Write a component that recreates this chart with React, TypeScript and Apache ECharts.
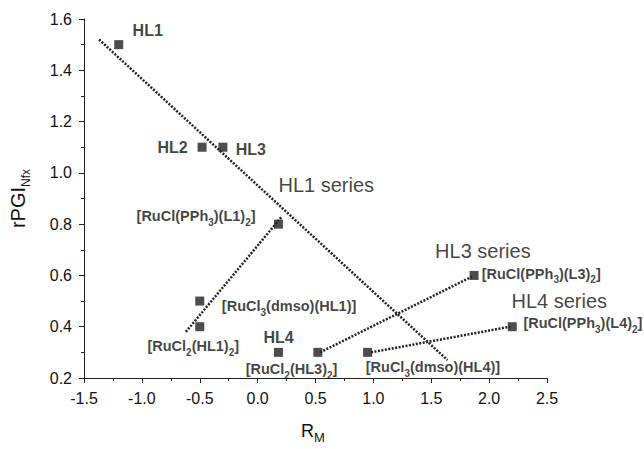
import React, { useEffect, useRef } from "react";
import * as echarts from "echarts";

const xTicks = { min: -1.5, max: 2.5, interval: 0.5 };
const yTicks = { min: 0.2, max: 1.6, interval: 0.2 };

const pointsX = [-1.2, -0.48, -0.3, 0.18, -0.5, -0.5, 0.18, 0.52, 0.95, 1.87, 2.2];
const pointsY = [1.5, 1.1, 1.1, 0.8, 0.5, 0.4, 0.3, 0.3, 0.3, 0.6, 0.4];

const fitHL1Series = [[-1.37, 1.52], [1.64, 0.27]];
const fitHL1Complex = [[-0.62, 0.38], [0.21, 0.83]];
const fitHL3Series = [[0.54, 0.3], [1.85, 0.595]];
const fitHL4Series = [[0.98, 0.3], [2.18, 0.4]];

// label anchors: [x, y, text]
const boldLabels: [number, number, string][] = [
  [-1.08, 1.554, "HL1"],
  [-0.866, 1.099, "HL2"],
  [-0.189, 1.092, "HL3"],
  [0.051, 0.357, "HL4"],
];
const compoundLabels: [number, number, string][] = [
  [-1.046, 0.83, "[RuCl(PPh{s|3})(L1){s|2}]"],
  [-0.309, 0.48, "[RuCl{s|3}(dmso)(HL1)]"],
  [-0.952, 0.323, "[RuCl{s|2}(HL1){s|2}]"],
  [-0.103, 0.234, "[RuCl{s|2}(HL3){s|2}]"],
  [0.934, 0.241, "[RuCl{s|3}(dmso)(HL4)]"],
  [1.936, 0.607, "[RuCl(PPh{s|3})(L3){s|2}]"],
  [2.296, 0.413, "[RuCl(PPh{s|3})(L4){s|2}]"],
];
const seriesLabels: [number, number, string][] = [
  [0.18, 0.954, "HL1 series"],
  [1.533, 0.696, "HL3 series"],
  [2.193, 0.499, "HL4 series"],
];

const INK = "#231f20";
const TEXT = "#111111";
const FONT = "'Liberation Sans', Arial, sans-serif";

function labelSeries(items: [number, number, string][], size: number, weight: string, sub: number) {
  return {
    type: "scatter",
    symbolSize: 0,
    silent: true,
    data: items.map((d) => ({ value: [d[0], d[1]], name: d[2] })),
    label: {
      show: true,
      position: "right",
      distance: 0,
      formatter: (p: any) => p.name,
      color: TEXT,
      fontFamily: FONT,
      fontSize: size,
      fontWeight: weight,
      lineHeight: size + 2,
      rich: {
        s: {
          fontFamily: FONT,
          fontSize: sub,
          fontWeight: weight,
          color: TEXT,
          lineHeight: sub,
          verticalAlign: "bottom",
          padding: [0, 0, -3, 0],
        },
      },
    },
  };
}

function fitLine(d: number[][]) {
  return {
    type: "line",
    data: d,
    symbol: "none",
    silent: true,
    lineStyle: { color: INK, width: 2.5, type: [2, 1.5] },
  };
}

const axisCommon = {
  type: "value",
  nameLocation: "middle",
  axisLine: { show: true, onZero: false, lineStyle: { color: INK, width: 1 } },
  axisTick: { show: true, inside: false, length: 5, lineStyle: { color: INK } },
  minorTick: { show: true, splitNumber: 2, length: 3, lineStyle: { color: INK } },
  splitLine: { show: false },
  axisLabel: {
    color: TEXT,
    fontFamily: FONT,
    fontSize: 16,
    margin: 12,
    formatter: (v: number) => v.toFixed(1),
  },
};

export default function App() {
  const ref = useRef<HTMLDivElement>(null);
  useEffect(() => {
    if (!ref.current) return;
    const chart = echarts.init(ref.current, undefined, { renderer: "svg" });
    chart.setOption({
      animation: false,
      backgroundColor: "#ffffff",
      grid: { left: 79, right: 97, top: 19, bottom: 55 },
      xAxis: {
        ...axisCommon,
        min: xTicks.min,
        max: xTicks.max,
        interval: xTicks.interval,
        name: "R{sub|M}",
        nameGap: 44,
        nameTextStyle: {
          color: TEXT,
          fontFamily: FONT,
          fontSize: 18,
          padding: [0, 5, 0, 0],
          rich: { sub: { fontFamily: FONT, fontSize: 13, color: TEXT, verticalAlign: "bottom", lineHeight: 13, padding: [0, 0, -4, 0] } },
        },
      },
      yAxis: {
        ...axisCommon,
        min: yTicks.min,
        max: yTicks.max,
        interval: yTicks.interval,
        name: "rPGI{sub|Nfx}",
        nameRotate: 90,
        nameGap: 56,
        nameTextStyle: {
          color: TEXT,
          fontFamily: FONT,
          fontSize: 20,
          rich: { sub: { fontFamily: FONT, fontSize: 12, color: TEXT, verticalAlign: "bottom", lineHeight: 12, padding: [0, 0, -4, 0] } },
        },
      },
      series: [
        fitLine(fitHL1Series),
        fitLine(fitHL1Complex),
        fitLine(fitHL3Series),
        fitLine(fitHL4Series),
        {
          type: "scatter",
          symbol: "rect",
          symbolSize: 9,
          itemStyle: { color: INK },
          data: pointsX.map((x, i) => [x, pointsY[i]]),
          z: 5,
        },
        labelSeries(boldLabels, 16, "bold", 10),
        labelSeries(compoundLabels, 14.5, "bold", 10),
        labelSeries(seriesLabels, 20, "normal", 12),
      ],
    });
    return () => chart.dispose();
  }, []);
  return <div ref={ref} style={{ width: 644, height: 449, position: "absolute", left: 0, top: 0 }} />;
}
